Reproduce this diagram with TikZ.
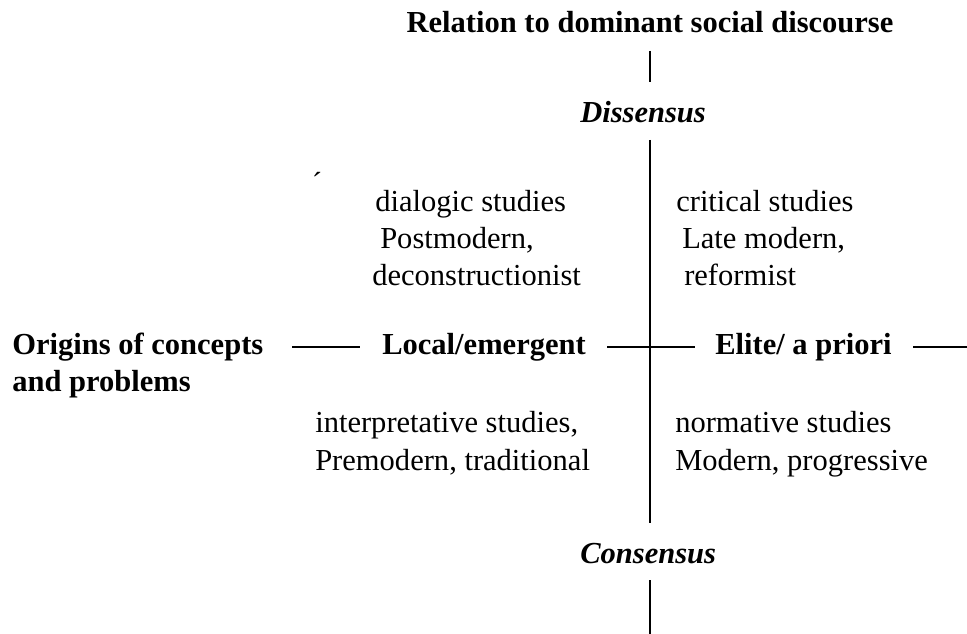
\documentclass[tikz,border=0pt]{standalone}
\usepackage{fontspec}
\setmainfont{Liberation Serif}
\begin{document}
\begin{tikzpicture}[x=0.75pt,y=-0.75pt,
  lbl/.style={anchor=base west, inner sep=0pt, font=\fontsize{22.9}{27}\selectfont},
  head/.style={lbl, font=\fontsize{22.9}{27}\selectfont\bfseries},
  pole/.style={lbl, font=\fontsize{22.9}{27}\selectfont\bfseries\itshape},
  rule/.style={line width=0.9pt}]
\useasboundingbox[fill=white] (0,0) rectangle (967,634);

% vertical axis: relation to dominant social discourse
\node[head, anchor=base] (title) at (650,33) {Relation to dominant social discourse};
\node[pole] (dis) at (580,123) {Dissensus};
\node[pole] (con) at (580,563) {Consensus};
\coordinate (v1a) at (650,51);  \coordinate (v1b) at (650,82);
\coordinate (v2a) at (650,140); \coordinate (v2b) at (650,523);
\coordinate (v3a) at (650,580); \coordinate (v3b) at (650,634);
\draw[rule] (v1a) -- (v1b);
\draw[rule] (v2a) -- (v2b);
\draw[rule] (v3a) -- (v3b);

% horizontal axis: origins of concepts and problems
\node[head] (orig1) at (12,355) {Origins of concepts};
\node[head] (orig2) at (12,392) {and problems};
\node[head] (local) at (382,355) {Local/emergent};
\node[head] (elite) at (715,355) {Elite/ a priori};
\coordinate (h1a) at (292,347); \coordinate (h1b) at (360,347);
\coordinate (h2a) at (607,347); \coordinate (h2b) at (695,347);
\coordinate (h3a) at (913,347); \coordinate (h3b) at (967,347);
\draw[rule] (h1a) -- (h1b);
\draw[rule] (h2a) -- (h2b);
\draw[rule] (h3a) -- (h3b);

% quadrant labels
\node[lbl] (acc) at (313,200) {\'{}};
\node[lbl] (q1a) at (375,212) {dialogic studies};
\node[lbl] (q1b) at (380,249) {Postmodern,};
\node[lbl] (q1c) at (372,286) {deconstructionist};
\node[lbl] (q2a) at (676,212) {critical studies};
\node[lbl] (q2b) at (682,249) {Late modern,};
\node[lbl] (q2c) at (684,286) {reformist};
\node[lbl] (q3a) at (315,432) {interpretative studies,};
\node[lbl] (q3b) at (315,470) {Premodern, traditional};
\node[lbl] (q4a) at (675,432) {normative studies};
\node[lbl] (q4b) at (675,470) {Modern, progressive};
\end{tikzpicture}
\end{document}
